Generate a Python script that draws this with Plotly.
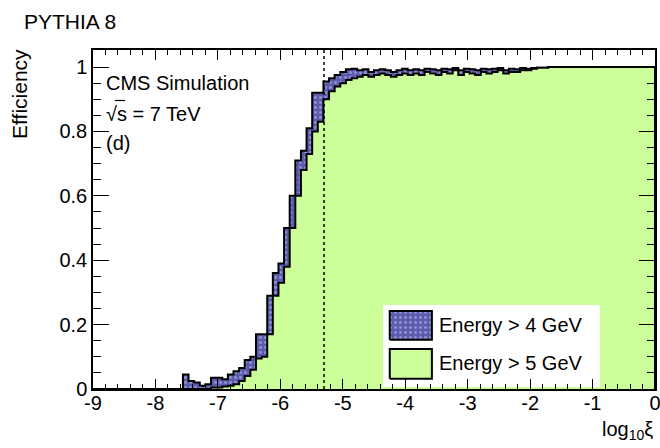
import numpy as np
import plotly.graph_objects as go

# Binning of log10(xi): 100 bins from -9 to 0
x_min, x_max, n_bins = -9.0, 0.0, 100
y_min, y_max = 0.0, 1.053
first_filled_bin = 16  # bins below this index are empty

# Efficiency for the Energy > 4 GeV selection (bins 16..99)
eff_4gev = [
    0.045, 0.025, 0.02, 0.01, 0.015, 0.035, 0.035, 0.03, 0.045, 0.055,
    0.065, 0.09, 0.10, 0.17, 0.17,
    0.29, 0.36, 0.39, 0.50, 0.60, 0.71, 0.74, 0.81, 0.92, 0.92,
    0.955, 0.965, 0.975, 0.985,
    0.993, 0.995, 0.99, 0.993, 0.985, 0.99, 0.993, 0.99, 0.985, 0.99,
    0.995, 0.99, 0.993, 0.99, 0.995, 0.993,
    0.99, 0.995, 0.993, 0.997, 0.99, 0.995, 0.993, 0.99, 0.995, 0.993,
    0.995, 0.997, 0.99, 0.995, 0.993, 0.997, 0.995, 0.997, 0.998, 0.998,
    1.0, 1.0, 1.0, 1.0, 1.0, 1.0, 1.0, 1.0, 1.0, 1.0,
    1.0, 1.0, 1.0, 1.0, 1.0, 1.0, 1.0, 1.0, 1.0,
]

# Efficiency for the Energy > 5 GeV selection (bins 16..99)
eff_5gev = [
    0.0, 0.0, 0.0, 0.0, 0.0, 0.005, 0.005, 0.008, 0.01, 0.015,
    0.025, 0.04, 0.06, 0.095, 0.10,
    0.17, 0.29, 0.33, 0.38, 0.50, 0.60, 0.68, 0.73, 0.80, 0.83,
    0.90, 0.925, 0.94, 0.95,
    0.96, 0.965, 0.97, 0.975, 0.97, 0.975, 0.98, 0.975, 0.97, 0.975,
    0.98, 0.975, 0.98, 0.975, 0.985, 0.98,
    0.975, 0.985, 0.98, 0.99, 0.975, 0.985, 0.98, 0.975, 0.985, 0.98,
    0.985, 0.99, 0.98, 0.985, 0.985, 0.99, 0.99, 0.995, 0.998, 0.998,
    1.0, 1.0, 1.0, 1.0, 1.0, 1.0, 1.0, 1.0, 1.0, 1.0,
    1.0, 1.0, 1.0, 1.0, 1.0, 1.0, 1.0, 1.0, 1.0,
]

xi_cut = -5.3  # dotted reference line

x_tick_vals = [-9, -8, -7, -6, -5, -4, -3, -2, -1, 0]
x_tick_text = ["-9", "-8", "-7", "-6", "-5", "-4", "-3", "-2", "-1", "0"]

series_names = ["Energy > 4 GeV", "Energy > 5 GeV"]

FONT = "Liberation Sans, Arial, Helvetica, sans-serif"
BLUE_BG, BLUE_DOTS = "#5c5cae", "#c9c9f2"
GREEN = "#ccff99"
blue_pattern = dict(shape=".", bgcolor=BLUE_BG, fgcolor=BLUE_DOTS,
                    size=5, solidity=0.25)


def step_points(values):
    """Full histogram contour (hv steps) closed down to zero at the end."""
    full = [0.0] * first_filled_bin + list(values)
    edges = np.linspace(x_min, x_max, n_bins + 1)
    xs = list(edges) + [x_max]
    ys = full + [full[-1], 0.0]
    return xs, ys


fig = go.Figure()

x4, y4 = step_points(eff_4gev)
fig.add_trace(go.Scatter(
    x=x4, y=y4, mode="lines", name=series_names[0], showlegend=False,
    line=dict(color="black", width=2, shape="hv"),
    fill="tozeroy", fillcolor=BLUE_BG, fillpattern=blue_pattern,
))

x5, y5 = step_points(eff_5gev)
fig.add_trace(go.Scatter(
    x=x5, y=y5, mode="lines", name=series_names[1], showlegend=False,
    line=dict(color="black", width=2, shape="hv"),
    fill="tozeroy", fillcolor=GREEN,
))

fig.add_vline(x=xi_cut, line=dict(color="black", width=1.5, dash="dot"),
              layer="above")


# --- legend box drawn on an overlay axis spanning the frame in [0, 1] units
def rect(x0, x1, y0, y1):
    return [x0, x1, x1, x0, x0], [y0, y0, y1, y1, y0]


bx, by = rect(0.516, 0.902, 0.006, 0.248)
fig.add_trace(go.Scatter(x=bx, y=by, xaxis="x3", yaxis="y3", mode="lines",
                         fill="toself", fillcolor="white",
                         line=dict(width=0, color="white"),
                         showlegend=False, hoverinfo="skip"))
sx, sy = rect(0.528, 0.603, 0.145, 0.230)
fig.add_trace(go.Scatter(x=sx, y=sy, xaxis="x3", yaxis="y3", mode="lines",
                         fill="toself", fillcolor=BLUE_BG,
                         fillpattern=blue_pattern,
                         line=dict(width=2, color="black"),
                         showlegend=False, hoverinfo="skip"))
sx, sy = rect(0.528, 0.603, 0.030, 0.118)
fig.add_trace(go.Scatter(x=sx, y=sy, xaxis="x3", yaxis="y3", mode="lines",
                         fill="toself", fillcolor=GREEN,
                         line=dict(width=2, color="black"),
                         showlegend=False, hoverinfo="skip"))

tick_font = dict(family=FONT, size=20, color="black")
axis_common = dict(
    showgrid=False, zeroline=False, showline=True, linecolor="black",
    linewidth=1.5, mirror="allticks", ticks="inside", tickcolor="black",
    tickwidth=1, tickfont=tick_font, ticklabeloverflow="allow",
    automargin=False,
)
x_minor = dict(dtick=0.2, tick0=0, ticks="inside", ticklen=5,
               tickcolor="black", tickwidth=1)
y_minor = dict(dtick=0.05, tick0=0, ticks="inside", ticklen=8,
               tickcolor="black", tickwidth=1)

fig.update_layout(
    width=660, height=448,
    margin=dict(l=93, r=5, t=50, b=59, autoexpand=False),
    paper_bgcolor="white", plot_bgcolor="white",
    font=tick_font,
    showlegend=False,
    xaxis=dict(range=[x_min, x_max], tickvals=x_tick_vals,
               ticktext=x_tick_text, ticklen=10, minor=x_minor,
               ticklabelstandoff=-5, **axis_common),
    yaxis=dict(range=[y_min, y_max], dtick=0.2, tick0=0, ticklen=16,
               minor=y_minor, **axis_common),
    xaxis3=dict(range=[0, 1], overlaying="x", anchor="y3", visible=False,
                fixedrange=True, automargin=False),
    yaxis3=dict(range=[0, 1], overlaying="y", anchor="x3", visible=False,
                fixedrange=True, automargin=False),
)


def label(text, x, y, xanchor="left", yanchor="middle", size=20, angle=0):
    return dict(text=text, x=x, y=y, xref="paper", yref="paper",
                xanchor=xanchor, yanchor=yanchor, showarrow=False,
                textangle=angle,
                font=dict(family=FONT, size=size, color="black"))


fig.update_layout(annotations=[
    label("PYTHIA 8", -0.127, 1.0855, size=21),
    label("Efficiency", -0.130, 1.009, xanchor="center", yanchor="top",
          size=21, angle=-90),
    label("log<sub>10</sub>ξ", 1.0, -0.121, xanchor="right", size=20),
    label("CMS Simulation", 0.0196, 0.9027),
    label("√s = 7 TeV", 0.0196, 0.811),
    label("(d)", 0.0196, 0.726),
    label(series_names[0], 0.612, 0.189),
    label(series_names[1], 0.612, 0.0767),
])

# bar over the "s" under the square-root sign
fig.add_shape(type="line", xref="paper", yref="paper",
              x0=0.039, x1=0.057, y0=0.851, y1=0.851,
              line=dict(color="black", width=1.2))

fig.write_html("out.html")
